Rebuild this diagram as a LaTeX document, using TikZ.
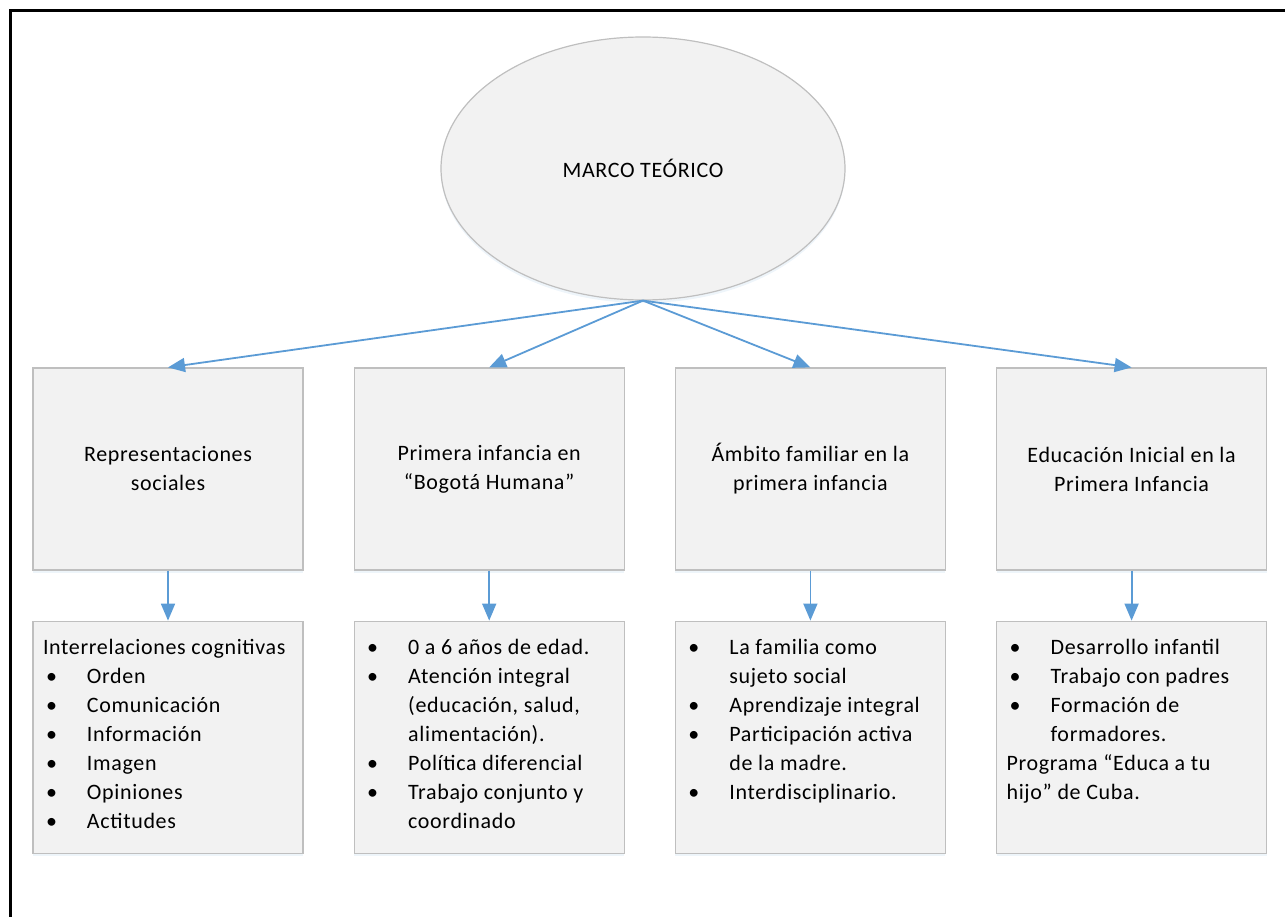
\documentclass[tikz,border=0pt]{standalone}
\usepackage{fontspec}
\setmainfont{Carlito}[LetterSpace=3]
\usepackage{xcolor}
\usepackage{tikz}
\usetikzlibrary{arrows.meta,positioning,shapes.geometric,shadows}
\definecolor{boxFill}{HTML}{F2F2F2}
\definecolor{boxLine}{HTML}{BFBFBF}
\definecolor{linkBlue}{HTML}{5B9BD5}
\newcommand{\bul}[1]{\par\noindent\hangindent=44pt\hangafter=1\strut\makebox[44pt][l]{\hspace{3pt}\textbullet}#1}
\newcommand{\plain}[1]{\par\noindent\strut#1}
\newcommand{\listtext}[1]{\parbox[t][206pt][t]{250pt}{\raggedright#1}}

\begin{document}
\begin{tikzpicture}[x=1pt,y=1pt,>=Latex,node distance=50pt,
  font=\fontsize{22}{29}\selectfont,
  shade/.style={drop shadow={shadow xshift=0pt,shadow yshift=-3pt,fill=linkBlue!30,opacity=0.35}},
  oval/.style={ellipse,draw=boxLine,fill=boxFill,line width=1.2pt,minimum width=404pt,minimum height=263pt,inner sep=0pt,shade},
  topbox/.style={draw=boxLine,fill=boxFill,line width=1.2pt,minimum width=270pt,minimum height=202pt,align=center,inner sep=0pt,shade},
  listbox/.style={draw=boxLine,fill=boxFill,line width=1.2pt,inner xsep=10pt,inner ysep=13pt,shade},
  link/.style={draw=linkBlue,line width=1.8pt,-{Triangle[length=17pt,width=14pt]}}]
\useasboundingbox (0,0) rectangle (1285,-917);
\draw[line width=3pt] (1285,-10.5) -- (10.5,-10.5) -- (10.5,-917);

\node[oval] (marco) at (643,-168.5) {MARCO TEÓRICO};

\node[topbox] (rep) at (168,-469) {Representaciones\\sociales};
\node[topbox,right=of rep] (inf) {Primera infancia en\\“Bogotá Humana”};
\node[topbox,right=of inf] (fam) {Ámbito familiar en la\\primera infancia};
\node[topbox,right=of fam] (edu) {Educación Inicial en la\\Primera Infancia};

\node[listbox,below=of rep] (repl) {\listtext{\plain{Interrelaciones cognitivas}
  \bul{Orden}\bul{Comunicación}\bul{Información}\bul{Imagen}\bul{Opiniones}\bul{Actitudes}}};
\node[listbox,below=of inf] (infl) {\listtext{\bul{0 a 6 años de edad.}
  \bul{Atención integral\newline(educación, salud,\newline alimentación).}
  \bul{Política diferencial}\bul{Trabajo conjunto y\newline coordinado}}};
\node[listbox,below=of fam] (faml) {\listtext{\bul{La familia como\newline sujeto social}
  \bul{Aprendizaje integral}\bul{Participación activa\newline de la madre.}\bul{Interdisciplinario.}}};
\node[listbox,below=of edu] (edul) {\listtext{\bul{Desarrollo infantil}
  \bul{Trabajo con padres}\bul{Formación de\newline formadores.}
  \plain{Programa “Educa a tu\newline hijo” de Cuba.}}};

\draw[link] (marco.south) -- (rep.north);
\draw[link] (marco.south) -- (inf.north);
\draw[link] (marco.south) -- (fam.north);
\draw[link] (marco.south) -- (edu.north);
\draw[link] (rep) -- (repl);
\draw[link] (inf) -- (infl);
\draw[link] (fam) -- (faml);
\draw[link] (edu) -- (edul);
\end{tikzpicture}
\end{document}
